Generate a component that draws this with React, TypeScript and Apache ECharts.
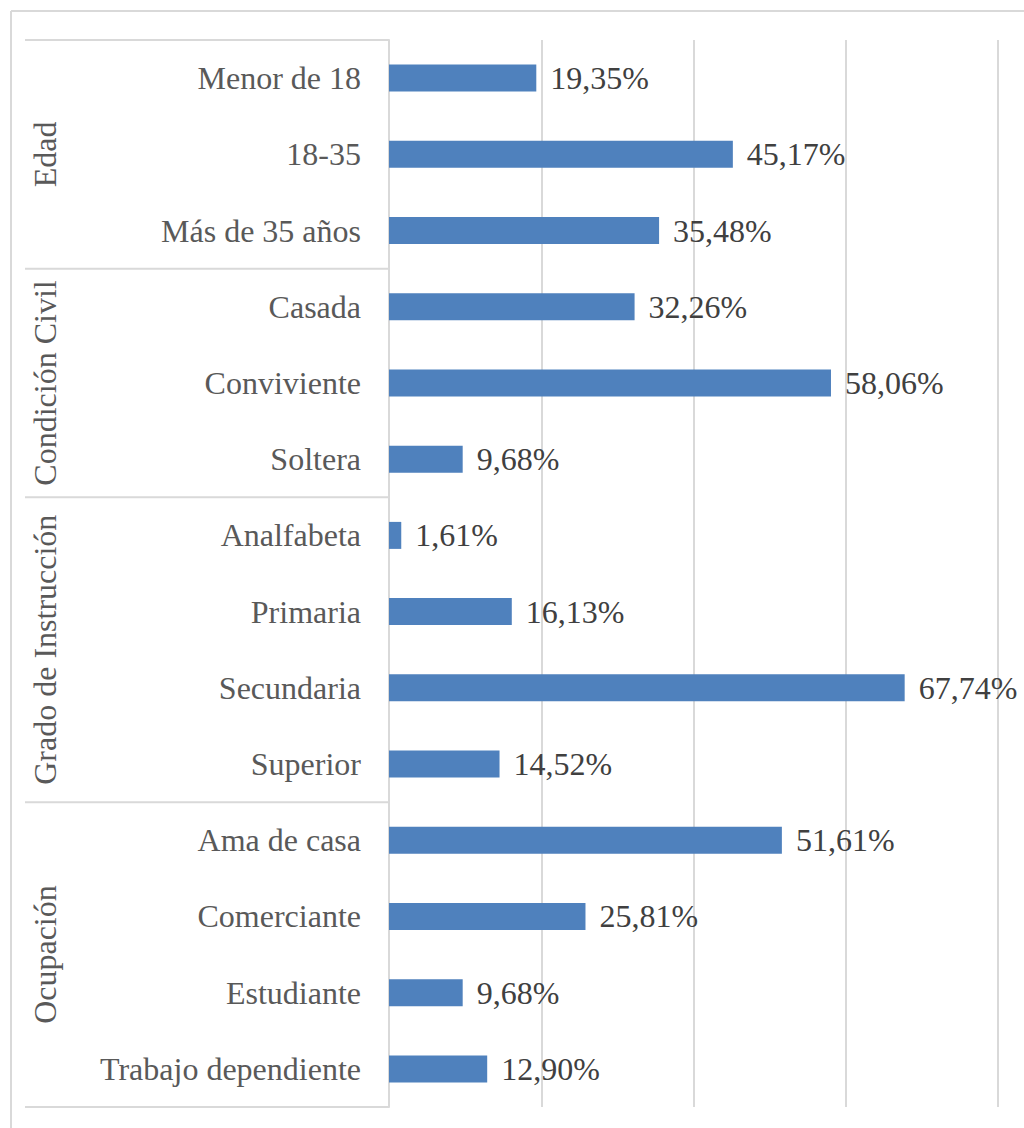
import React, { useEffect, useRef } from "react";
import * as echarts from "echarts";

const categories = [
  "Menor de 18",
  "18-35",
  "Más de 35 años",
  "Casada",
  "Conviviente",
  "Soltera",
  "Analfabeta",
  "Primaria",
  "Secundaria",
  "Superior",
  "Ama de casa",
  "Comerciante",
  "Estudiante",
  "Trabajo dependiente",
];
const values = [19.35, 45.17, 35.48, 32.26, 58.06, 9.68, 1.61, 16.13, 67.74, 14.52, 51.61, 25.81, 9.68, 12.9];
const groups = ["Edad", "Condición Civil", "Grado de Instrucción", "Ocupación"];
const groupSizes = [3, 3, 4, 4];
const xMin = 0;
const xMax = 80;
const xInterval = 20;

const FONT = '"Liberation Serif", "Times New Roman", serif';
const LINE = "#d9d9d9";

export default function App() {
  const ref = useRef<HTMLDivElement>(null);

  useEffect(() => {
    document.body.style.margin = "0";
    if (!ref.current) return;
    const chart = echarts.init(ref.current, null, { renderer: "svg" });
    chart.setOption({
      animation: false,
      backgroundColor: "#ffffff",
      grid: { left: 389, top: 40, right: 26, bottom: 21, containLabel: false },
      xAxis: {
        type: "value",
        min: xMin,
        max: xMax,
        interval: xInterval,
        axisLabel: { show: false },
        axisLine: { show: false },
        axisTick: { show: false },
        splitLine: { show: true, lineStyle: { color: LINE, width: 2 } },
      },
      yAxis: {
        type: "category",
        inverse: true,
        data: categories,
        axisLine: { show: true, lineStyle: { color: LINE, width: 2 } },
        axisTick: { show: false },
        axisLabel: {
          margin: 28,
          fontFamily: FONT,
          fontSize: 32,
          color: "#595959",
          interval: 0,
        },
      },
      series: [
        {
          type: "bar",
          data: values,
          barWidth: 27,
          itemStyle: { color: "#4f81bd" },
          label: {
            show: true,
            position: "right",
            distance: 14,
            fontFamily: FONT,
            fontSize: 32,
            color: "#404040",
            formatter: (p: any) => p.value.toFixed(2).replace(".", ",") + "%",
          },
        },
      ],
    });

    const c0 = chart.convertToPixel({ yAxisIndex: 0 }, categories[0]) as number;
    const c1 = chart.convertToPixel({ yAxisIndex: 0 }, categories[1]) as number;
    const band = c1 - c0;
    const axisX = chart.convertToPixel({ xAxisIndex: 0 }, xMin) as number;
    const tableLeft = 25;
    const graphics: any[] = [
      { type: "line", shape: { x1: 11, y1: 11, x2: 1024, y2: 11 }, style: { stroke: LINE, lineWidth: 2 } },
      { type: "line", shape: { x1: 11, y1: 11, x2: 11, y2: 1128 }, style: { stroke: LINE, lineWidth: 2 } },
    ];
    let start = 0;
    const top = c0 - band / 2;
    graphics.push({
      type: "line",
      shape: { x1: tableLeft, y1: top, x2: axisX, y2: top },
      style: { stroke: LINE, lineWidth: 2 },
    });
    groups.forEach((g, gi) => {
      const end = start + groupSizes[gi];
      const yStart = c0 + (start - 0.5) * band;
      const yEnd = c0 + (end - 0.5) * band;
      graphics.push({
        type: "line",
        shape: { x1: tableLeft, y1: yEnd, x2: axisX, y2: yEnd },
        style: { stroke: LINE, lineWidth: 2 },
      });
      graphics.push({
        type: "text",
        x: 45,
        y: (yStart + yEnd) / 2,
        rotation: Math.PI / 2,
        style: {
          text: g,
          fontFamily: FONT,
          fontSize: 32,
          fill: "#595959",
          align: "center",
          verticalAlign: "middle",
        },
      });
      start = end;
    });
    chart.setOption({ graphic: graphics });

    return () => chart.dispose();
  }, []);

  return <div ref={ref} style={{ width: 1024, height: 1128 }} />;
}
